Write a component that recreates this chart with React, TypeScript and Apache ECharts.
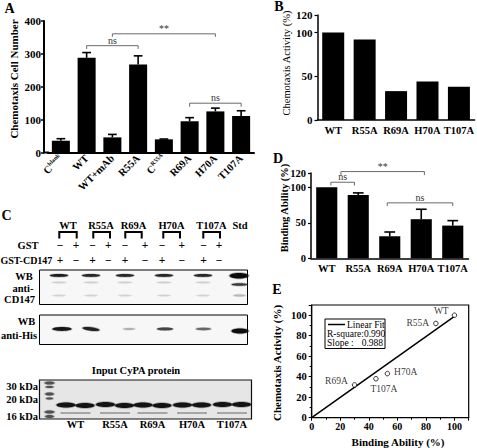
import React, { useEffect, useRef } from "react";
import * as echarts from "echarts";

const SERIF = "'Liberation Serif', 'Times New Roman', 'DejaVu Serif', serif";

// ---------- Panel A : chemotaxis cell number ----------
const catsA = ["C^blank", "WT", "WT+mAb", "R55A", "C^R55A", "R69A", "H70A", "T107A"];
const meanA = [36, 288, 46, 268, 40, 95, 125, 111];
const upperA = [42, 304, 55, 294, 41, 106, 135, 127];
const sigA = [
  { from: 1, fromOff: 0, to: 3, toOff: 0, y: 325, drop: 315, text: "ns" },
  { from: 2, fromOff: 0, to: 6, toOff: 0, y: 361, drop: 352, text: "**" },
  { from: 5, fromOff: 0, to: 7, toOff: 0, y: 150, drop: 139, text: "ns" },
];

// ---------- Panel B : chemotaxis activity ----------
const catsB = ["WT", "R55A", "R69A", "H70A", "T107A"];
const activityB = [100, 92, 33, 44, 38];

// ---------- Panel D : binding ability ----------
const bindingD = [100, 89, 31, 55, 46];
const upperD = [null, 92, 37, 69, 53];
const sigD = [
  { from: 0, fromOff: 0.13, to: 1, toOff: -0.12, y: 107, drop: 102.5, text: "ns" },
  { from: 0, fromOff: 0.45, to: 3, toOff: 0.1, y: 122, drop: 117, text: "**" },
  { from: 2, fromOff: -0.08, to: 4, toOff: 0, y: 78, drop: 73.5, text: "ns" },
];

// ---------- Panel E : correlation ----------
const namesE = ["WT", "R55A", "R69A", "H70A", "T107A"];
const bindingE = [100, 87, 30, 53, 45];
const activityE = [100, 92, 32, 43, 38];
const fitSlope = 0.988;
const fitRSquare = "0.990";
const fitRange = [0, 100];

// ---------- Panel C : pull-down blots ----------
const groupsC = ["WT", "R55A", "R69A", "H70A", "T107A"];
const gstSigns = ["\u2212", "+"];
const cd147Signs = ["+", "\u2212"];
const cd147BandStrength = [0.92, 0.88, 0.88, 0.88, 0.88];
const hisBandStrength = [0.95, 0.9, 0.35, 0.75, 0.6];
const kdaMarkers = ["30 kDa", "20 kDa", "16 kDa"];

function txt(text: string, x: number, y: number, o: any = {}) {
  return {
    type: "text",
    x,
    y,
    rotation: o.rotation || 0,
    z: 20,
    style: {
      text,
      x: 0,
      y: 0,
      fill: o.fill || "#000",
      fontFamily: SERIF,
      fontSize: o.size || 10.5,
      fontWeight: o.weight || "bold",
      align: o.align || "center",
      verticalAlign: o.valign || "middle",
    },
  };
}

function band(cx: number, cy: number, w: number, h: number, strength: number, rot = 0) {
  const g = Math.round(240 - strength * 228);
  const col = `rgb(${g},${g},${g})`;
  return [
    {
      type: "ellipse",
      x: cx,
      y: cy,
      rotation: rot,
      z: 12,
      shape: { cx: 0, cy: 0, rx: w / 2 + 1, ry: h / 2 + 0.7 },
      style: { fill: col, opacity: 0.3 },
    },
    {
      type: "ellipse",
      x: cx,
      y: cy,
      rotation: rot,
      z: 13,
      shape: { cx: 0, cy: 0, rx: w / 2, ry: h / 2 },
      style: { fill: col },
    },
  ];
}

function buildPanelC() {
  const els: any[] = [];
  const groupX = [68, 101, 133.5, 171.5, 211.5];
  const bracketX = [[59.3, 76.7], [93.3, 110], [125.3, 141.7], [163.3, 180], [203.3, 220]];
  const lanes = [[60, 76], [92.5, 108.3], [125, 145], [162, 181.7], [203.5, 219]];
  groupsC.forEach((g, i) => {
    els.push(txt(g, groupX[i], 225, { size: 10.5 }));
    const [a, b] = bracketX[i];
    els.push({
      type: "polyline",
      z: 20,
      shape: { points: [[a, 238.5], [a, 232], [b, 232], [b, 238.5]] },
      style: { stroke: "#000", lineWidth: 2, fill: "none" },
    });
    els.push(txt(gstSigns[0], lanes[i][0], 245, { size: 11.5 }));
    els.push(txt(gstSigns[1], lanes[i][1], 245, { size: 11.5 }));
    els.push(txt(cd147Signs[0], lanes[i][0], 260, { size: 11.5 }));
    els.push(txt(cd147Signs[1], lanes[i][1], 260, { size: 11.5 }));
  });
  els.push(txt("Std", 240, 225, { size: 10.5 }));
  els.push(txt("GST", 38.5, 245, { size: 10.5, align: "right" }));
  els.push(txt("GST-CD147", 0.5, 260, { size: 10, align: "left" }));

  // blot 1: anti-CD147
  els.push({ type: "rect", z: 11, shape: { x: 39.5, y: 270, width: 208, height: 34.5 }, style: { fill: "#f7f7f7", stroke: "#000", lineWidth: 1 } });
  const cdX = [59, 91, 125, 164, 203];
  cdX.forEach((x, i) => {
    els.push(...band(x, 275.5, 18, 2.8, cd147BandStrength[i]));
    els.push(...band(x, 282.5, 14, 1.4, 0.15));
    els.push(...band(x, 295.5, 13, 1.6, 0.13));
  });
  els.push(...band(239, 275.8, 19, 5.5, 1));
  els.push(...band(239.5, 284.5, 16, 2.6, 0.8));
  els.push(...band(239.5, 295.5, 12, 2, 0.25));
  els.push(txt("WB", 24, 276.5, { size: 10.5 }));
  els.push(txt("anti-", 23, 288, { size: 10.5 }));
  els.push(txt("CD147", 19.5, 299.5, { size: 10.5 }));

  // blot 2: anti-His
  els.push({ type: "rect", z: 11, shape: { x: 39.5, y: 315, width: 208, height: 29.5 }, style: { fill: "#f7f7f7", stroke: "#000", lineWidth: 1 } });
  const hisX = [62, 91, 129, 165, 203.5];
  const hisW = [19, 17, 12, 16, 15];
  const hisH = [3.8, 3.6, 1.6, 2.8, 2.4];
  hisX.forEach((x, i) => {
    els.push(...band(x, 329, hisW[i], hisH[i], hisBandStrength[i], i === 1 ? -0.12 : 0));
  });
  els.push(...band(240, 331, 17, 5, 1));
  els.push(txt("WB", 26.5, 321.5, { size: 10.5 }));
  els.push(txt("anti-His", 19, 335.5, { size: 10.5 }));

  // input gel
  els.push(txt("Input CyPA protein", 136, 370, { size: 10.5 }));
  els.push({ type: "rect", z: 11, shape: { x: 39.5, y: 380, width: 212, height: 39 }, style: { fill: "#e6e6e6", stroke: "#111", lineWidth: 1.2 } });
  const ladder = [[383, 10, 3], [387, 8, 2], [394, 9, 3], [398.5, 7, 2], [412, 10, 3], [416.5, 9, 3]];
  ladder.forEach(([y, w, h]) => els.push(...band(49.5, y, w, h, 0.7)));
  const pairC = [75.5, 115, 152.5, 192, 232];
  const bandY = [405, 405.5, 404.5, 405.5, 405, 405.5, 405, 405, 404.5, 404.5];
  pairC.forEach((c, i) => {
    els.push(...band(c - 9.5, bandY[2 * i], 19, 5, 0.97));
    els.push(...band(c + 9.5, bandY[2 * i + 1], 19, 5, 0.97));
    els.push({ type: "line", z: 14, shape: { x1: c - 15, y1: 413, x2: c + 15, y2: 413 }, style: { stroke: "#666", lineWidth: 1 } });
    els.push(txt(groupsC[i], c, 424, { size: 10.5 }));
  });
  const kdaY = [386, 399, 416];
  kdaMarkers.forEach((k, i) => els.push(txt(k, 38, kdaY[i], { size: 10.5, align: "right" })));
  return els;
}

function errorRender(capFrac: number, lw: number) {
  return (params: any, api: any) => {
    const x = api.value(0);
    const base = api.coord([x, api.value(1)]);
    const top = api.coord([x, api.value(2)]);
    const half = api.size([1, 0])[0] * capFrac;
    return {
      type: "group",
      children: [
        { type: "line", shape: { x1: base[0], y1: base[1], x2: top[0], y2: top[1] }, style: { stroke: "#000", lineWidth: lw } },
        { type: "line", shape: { x1: top[0] - half, y1: top[1], x2: top[0] + half, y2: top[1] }, style: { stroke: "#000", lineWidth: lw } },
      ],
    };
  };
}

function bracketRender(list: any[]) {
  return (params: any, api: any) => {
    const b = list[params.dataIndex];
    const bw = api.size([1, 0])[0];
    const p1 = api.coord([b.from, b.y]);
    const p2 = api.coord([b.to, b.y]);
    const d = api.coord([b.from, b.drop]);
    const x1 = p1[0] + b.fromOff * bw;
    const x2 = p2[0] + b.toOff * bw;
    return {
      type: "group",
      children: [
        {
          type: "polyline",
          shape: { points: [[x1, d[1]], [x1, p1[1]], [x2, p1[1]], [x2, d[1]]] },
          style: { stroke: "#444", lineWidth: 0.8, fill: "none" },
        },
        {
          type: "text",
          style: {
            text: b.text,
            x: (x1 + x2) / 2,
            y: p1[1] - 0.5,
            fill: "#333",
            fontFamily: SERIF,
            fontSize: 10,
            align: "center",
            verticalAlign: "bottom",
          },
        },
      ],
    };
  };
}

const tickLabel = (size: number, margin: number) => ({
  color: "#000",
  fontFamily: SERIF,
  fontWeight: "bold",
  fontSize: size,
  margin,
});

function buildOption() {
  const labelPos: any[] = [
    { position: "left", distance: 3, offset: [0, -4] },
    { position: "left", distance: 4, offset: [0, 0] },
    { position: "left", distance: 4, offset: [0, -4] },
    { position: "right", distance: 4, offset: [0, -2] },
    { position: "bottom", distance: 2, offset: [8, 0] },
  ];
  return {
    animation: false,
    backgroundColor: "#fff",
    grid: [
      { left: 48, top: 21, width: 206, height: 131.5 },
      { left: 317.5, top: 15, width: 158, height: 105 },
      { left: 311, top: 173, width: 157.5, height: 85.3 },
      { left: 311.7, top: 305, width: 157, height: 112.7, show: true, borderColor: "#000", borderWidth: 1.2, backgroundColor: "transparent" },
    ],
    xAxis: [
      {
        type: "category",
        gridIndex: 0,
        data: catsA,
        axisLine: { lineStyle: { color: "#000", width: 2 } },
        axisTick: { alignWithLabel: true, length: 3, lineStyle: { color: "#000", width: 1.5 } },
        axisLabel: {
          ...tickLabel(10.5, 4),
          rotate: 45,
          interval: 0,
          formatter: (v: string) => (v.startsWith("C^") ? `{b|C}{s|${v.slice(2)}}` : `{b|${v}}`),
          rich: {
            b: { fontFamily: SERIF, fontWeight: "bold", fontSize: 10.5, color: "#000", lineHeight: 12 },
            s: { fontFamily: SERIF, fontWeight: "bold", fontSize: 6, color: "#000", lineHeight: 12, verticalAlign: "top" },
          },
        },
      },
      {
        type: "category",
        gridIndex: 1,
        data: catsB,
        axisLine: { lineStyle: { color: "#000", width: 1.5 } },
        axisTick: { show: false },
        axisLabel: { ...tickLabel(10.5, 5), interval: 0, hideOverlap: false },
      },
      {
        type: "category",
        gridIndex: 2,
        data: catsB,
        axisLine: { lineStyle: { color: "#000", width: 1.5 } },
        axisTick: { show: false },
        axisLabel: { ...tickLabel(10.5, 5), interval: 0, hideOverlap: false },
      },
      {
        type: "value",
        gridIndex: 3,
        min: 0,
        max: 110,
        interval: 20,
        axisLine: { lineStyle: { color: "#000", width: 1.2 } },
        axisTick: { length: 3, lineStyle: { color: "#000" } },
        minorTick: { show: true, splitNumber: 2, length: 2, lineStyle: { color: "#000" } },
        splitLine: { show: false },
        axisLabel: tickLabel(10, 4),
      },
    ],
    yAxis: [
      {
        type: "value",
        gridIndex: 0,
        min: 0,
        max: 400,
        interval: 100,
        offset: 4,
        axisLine: { show: true, lineStyle: { color: "#000", width: 2 } },
        axisTick: { show: true, length: 3, lineStyle: { color: "#000", width: 1.5 } },
        splitLine: { show: false },
        axisLabel: tickLabel(11, 3),
      },
      {
        type: "value",
        gridIndex: 1,
        min: 0,
        max: 120,
        interval: 50,
        axisLine: { show: true, lineStyle: { color: "#000", width: 1.5 } },
        axisTick: { show: true, length: 3, lineStyle: { color: "#000", width: 1.2 } },
        splitLine: { show: false },
        axisLabel: tickLabel(11, 5),
      },
      {
        type: "value",
        gridIndex: 2,
        min: 0,
        max: 120,
        interval: 50,
        axisLine: { show: true, lineStyle: { color: "#000", width: 1.5 } },
        axisTick: { show: true, length: 3, lineStyle: { color: "#000", width: 1.2 } },
        splitLine: { show: false },
        axisLabel: tickLabel(10.5, 5),
      },
      {
        type: "value",
        gridIndex: 3,
        min: 0,
        max: 110,
        interval: 20,
        axisLine: { show: true, lineStyle: { color: "#000", width: 1.2 } },
        axisTick: { show: true, length: 3, lineStyle: { color: "#000" } },
        minorTick: { show: true, splitNumber: 2, length: 2, lineStyle: { color: "#000" } },
        splitLine: { show: false },
        axisLabel: tickLabel(10.5, 5),
      },
    ],
    series: [
      { type: "bar", xAxisIndex: 0, yAxisIndex: 0, data: meanA, barWidth: "70%", itemStyle: { color: "#000" } },
      {
        type: "custom",
        xAxisIndex: 0,
        yAxisIndex: 0,
        data: meanA.map((m, i) => [i, m, upperA[i]]),
        encode: { x: 0, y: 2 },
        renderItem: errorRender(0.17, 1.6),
      },
      {
        type: "custom",
        xAxisIndex: 0,
        yAxisIndex: 0,
        data: sigA.map((b) => [b.from, b.y]),
        encode: { x: 0, y: 1 },
        renderItem: bracketRender(sigA),
        z: 5,
      },
      { type: "bar", xAxisIndex: 1, yAxisIndex: 1, data: activityB, barWidth: "70%", itemStyle: { color: "#000" } },
      { type: "bar", xAxisIndex: 2, yAxisIndex: 2, data: bindingD, barWidth: "67%", itemStyle: { color: "#000" } },
      {
        type: "custom",
        xAxisIndex: 2,
        yAxisIndex: 2,
        data: bindingD
          .map((m, i) => [i, m, upperD[i]])
          .filter((r) => r[2] !== null),
        encode: { x: 0, y: 2 },
        renderItem: errorRender(0.17, 1.6),
      },
      {
        type: "custom",
        xAxisIndex: 2,
        yAxisIndex: 2,
        data: sigD.map((b) => [b.from, b.y]),
        encode: { x: 0, y: 1 },
        renderItem: bracketRender(sigD),
        z: 5,
      },
      {
        type: "line",
        xAxisIndex: 3,
        yAxisIndex: 3,
        data: fitRange.map((x) => [x, x * fitSlope]),
        symbol: "none",
        lineStyle: { color: "#000", width: 1.5 },
      },
      {
        type: "scatter",
        xAxisIndex: 3,
        yAxisIndex: 3,
        symbol: "circle",
        symbolSize: 4.5,
        itemStyle: { color: "#fff", borderColor: "#000", borderWidth: 1 },
        data: namesE.map((n, i) => ({
          name: n,
          value: [bindingE[i], activityE[i]],
          label: { show: true, formatter: "{b}", color: "#000", fontFamily: SERIF, fontSize: 9.5, ...labelPos[i] },
        })),
        z: 6,
      },
    ],
    graphic: [
      // panel letters
      txt("A", 9.5, 8, { size: 14 }),
      txt("B", 279, 6.5, { size: 14 }),
      txt("C", 6.5, 215.5, { size: 14 }),
      txt("D", 278, 158.5, { size: 14 }),
      txt("E", 277, 289, { size: 14 }),
      // axis titles
      txt("Chemotaxis Cell Number", 14, 79, { size: 11, rotation: Math.PI / 2 }),
      txt("Chemotaxis Activity (%)", 286, 63, { size: 10.5, weight: "normal", rotation: Math.PI / 2 }),
      txt("Binding Ability (%)", 284.5, 208, { size: 10.5, rotation: Math.PI / 2 }),
      txt("Chemotaxis Activity (%)", 277, 363, { size: 11, rotation: Math.PI / 2 }),
      txt("Binding Ability (%)", 398, 442, { size: 11 }),
      // corner of panel A axes
      { type: "line", z: 15, shape: { x1: 43, y1: 152.5, x2: 49, y2: 152.5 }, style: { stroke: "#000", lineWidth: 2 } },
      // legend of panel E
      { type: "rect", z: 15, shape: { x: 325, y: 319, width: 60, height: 29.5 }, style: { fill: "#fff", stroke: "#000", lineWidth: 1 } },
      { type: "line", z: 16, shape: { x1: 328, y1: 324.5, x2: 345, y2: 324.5 }, style: { stroke: "#000", lineWidth: 1.5 } },
      txt("Linear Fit", 347, 324.5, { size: 9.5, weight: "normal", align: "left" }),
      txt("R-square:" + fitRSquare, 327, 334, { size: 9.5, weight: "normal", align: "left" }),
      txt("Slope :", 327, 343, { size: 9.5, weight: "normal", align: "left" }),
      txt(fitSlope.toFixed(3), 383, 343, { size: 9.5, weight: "normal", align: "right" }),
      ...buildPanelC(),
    ],
  };
}

export default function App() {
  const ref = useRef<HTMLDivElement>(null);
  useEffect(() => {
    document.body.style.margin = "0";
    const chart = echarts.init(ref.current!, undefined, { renderer: "svg" });
    chart.setOption(buildOption() as any);
    return () => chart.dispose();
  }, []);
  return <div ref={ref} style={{ width: 477, height: 448 }} />;
}
